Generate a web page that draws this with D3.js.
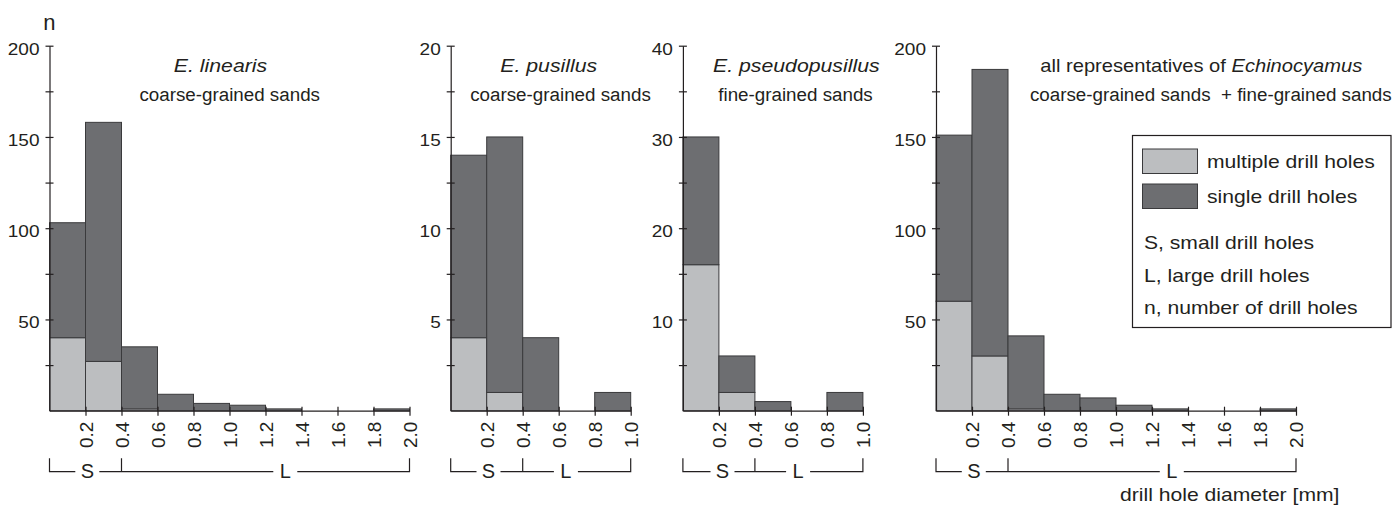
<!DOCTYPE html>
<html>
<head>
<meta charset="utf-8">
<script src="https://cdn.jsdelivr.net/npm/d3@7"></script>
<style>
  body { margin: 0; background: #fff; }
  svg { display: block; font-family: "Liberation Sans", Arial, sans-serif; }
</style>
</head>
<body>
<div id="chart"></div>
<script>
// drill hole diameter classes, 0.2 mm wide
const binWidth = 0.2;

// E. linearis (coarse-grained sands)
const linearisMultiple = [40, 27, 1, 0, 0, 0, 0, 0, 0, 0];
const linearisSingle   = [63, 131, 34, 9, 4, 3, 1, 0, 0, 1];
// E. pusillus (coarse-grained sands)
const pusillusMultiple = [4, 1, 0, 0, 0];
const pusillusSingle   = [10, 14, 4, 0, 1];
// E. pseudopusillus (fine-grained sands)
const pseudoMultiple = [16, 2, 0, 0, 0];
const pseudoSingle   = [14, 4, 1, 0, 2];
// all representatives of Echinocyamus
const allMultiple = [60, 30, 1, 0, 0, 0, 0, 0, 0, 0];
const allSingle   = [91, 157, 40, 9, 7, 3, 1, 0, 0, 1];

// tick labels
const xTicksLong  = [0.2, 0.4, 0.6, 0.8, 1.0, 1.2, 1.4, 1.6, 1.8, 2.0];
const xTicksShort = [0.2, 0.4, 0.6, 0.8, 1.0];
const yMajor200 = [50, 100, 150, 200];
const yMinor200 = [25, 75, 125, 175];
const yMajor20  = [5, 10, 15, 20];
const yMinor20  = [2.5, 7.5, 12.5, 17.5];
const yMajor40  = [10, 20, 30, 40];
const yMinor40  = [5, 15, 25, 35];

// small / large drill hole boundary (mm)
const sizeBreak = 0.4;

const legendItems = ["multiple drill holes", "single drill holes"];
const legendNotes = ["S, small drill holes", "L, large drill holes", "n, number of drill holes"];

const lightFill = "#bcbec0";
const darkFill  = "#6d6e71";
const ink = "#231f20";

const W = 1392, H = 507;
const baseY = 410.7, topY = 45.7;
const pxPerMm = 180;

const svg = d3.select("#chart").append("svg")
    .attr("width", W)
    .attr("height", H);

// panel layout
const panels = [
  { multiple: linearisMultiple, single: linearisSingle, yMax: 200, yMajor: yMajor200, yMinor: yMinor200,
    xMax: 2.0, xTicks: xTicksLong, x0: 49.5,
    title: [["E. linearis", true]], titleX: 220.5, titleSize: 18.5,
    sub: "coarse-grained sands", subX: 229.7, sPos: 0.21, lPos: 1.31 },
  { multiple: pusillusMultiple, single: pusillusSingle, yMax: 20, yMajor: yMajor20, yMinor: yMinor20,
    xMax: 1.0, xTicks: xTicksShort, x0: 450.7,
    title: [["E. pusillus", true]], titleX: 548.7, titleSize: 18.5,
    sub: "coarse-grained sands", subX: 560.5, sPos: 0.21, lPos: 0.64 },
  { multiple: pseudoMultiple, single: pseudoSingle, yMax: 40, yMajor: yMajor40, yMinor: yMinor40,
    xMax: 1.0, xTicks: xTicksShort, x0: 682.9,
    title: [["E. pseudopusillus", true]], titleX: 796.3, titleSize: 18.5,
    sub: "fine-grained sands", subX: 795.5, sPos: 0.22, lPos: 0.64 },
  { multiple: allMultiple, single: allSingle, yMax: 200, yMajor: yMajor200, yMinor: yMinor200,
    xMax: 2.0, xTicks: xTicksLong, x0: 936,
    title: [["all representatives of ", false], ["Echinocyamus", true]], titleX: 1201.3, titleSize: 17.5,
    sub: "coarse-grained sands  + fine-grained sands", subX: 1210.8, sPos: 0.21, lPos: 1.31 }
];

// text that is a little wider than the font draws it
function label(g, x, y, size, sx) {
  return g.append("text")
      .attr("transform", `translate(${x},${y}) scale(${sx},1)`)
      .attr("font-size", size)
      .attr("fill", ink);
}

const stack = d3.stack().keys(["multiple", "single"]);

panels.forEach(p => {
  const g = svg.append("g");

  const x = d3.scaleLinear()
      .domain([0, p.xMax])
      .range([p.x0, p.x0 + p.xMax * pxPerMm]);
  const y = d3.scaleLinear()
      .domain([0, p.yMax])
      .range([baseY, topY]);

  const rows = p.multiple.map((m, i) => ({ bin: i * binWidth, multiple: m, single: p.single[i] }));
  const series = stack(rows);

  // stacked bars: multiple (light) under single (dark)
  g.selectAll("g.series")
    .data(series)
    .join("g")
      .attr("class", "series")
      .attr("fill", d => d.key === "multiple" ? lightFill : darkFill)
    .selectAll("rect")
    .data(d => d.filter(v => v[1] > v[0]))
    .join("rect")
      .attr("x", d => x(d.data.bin))
      .attr("width", d => x(d.data.bin + binWidth) - x(d.data.bin))
      .attr("y", d => y(d[1]))
      .attr("height", d => y(d[0]) - y(d[1]))
      .attr("stroke", "#3a3a3c")
      .attr("stroke-width", 1);

  // y axis
  const yAxis = d3.axisLeft(y)
      .tickValues([...p.yMinor, ...p.yMajor])
      .tickFormat(d => p.yMajor.includes(d) ? d : "")
      .tickSizeOuter(0);
  const ya = g.append("g")
      .attr("transform", `translate(${p.x0},0)`)
      .call(yAxis)
      .attr("font-family", null)
      .attr("font-size", 17);
  ya.selectAll("path, line").attr("stroke", ink).attr("stroke-width", 1.2);
  ya.selectAll(".tick line").attr("x1", -4).attr("x2", 4);
  ya.selectAll(".tick text")
      .attr("fill", ink)
      .attr("x", -10 / 1.12)
      .attr("dy", "0.5em")
      .attr("transform", "scale(1.12,1)");

  // x axis
  const xAxis = d3.axisBottom(x)
      .tickValues(p.xTicks)
      .tickFormat(d3.format(".1f"))
      .tickSizeOuter(0);
  const xa = g.append("g")
      .attr("transform", `translate(0,${baseY})`)
      .call(xAxis)
      .attr("font-family", null)
      .attr("font-size", 19);
  xa.selectAll("path, line").attr("stroke", ink).attr("stroke-width", 1.2);
  xa.selectAll(".tick line").attr("y1", -4).attr("y2", 5);
  xa.selectAll(".tick text")
      .attr("fill", ink)
      .attr("transform", "rotate(-90)")
      .attr("text-anchor", "end")
      .attr("x", -11)
      .attr("y", 0)
      .attr("dy", "0.36em");

  // S / L brackets under the axis
  const bTop = 458.3, bY = 471.7, gap = 12;
  const xs = x(p.sPos), xl = x(p.lPos);
  const path = d3.path();
  path.moveTo(x(0), bTop); path.lineTo(x(0), bY); path.lineTo(xs - gap, bY);
  path.moveTo(xs + gap, bY); path.lineTo(x(sizeBreak), bY);
  path.moveTo(x(sizeBreak), bTop); path.lineTo(x(sizeBreak), bY); path.lineTo(xl - gap, bY);
  path.moveTo(xl + gap, bY); path.lineTo(x(p.xMax), bY); path.lineTo(x(p.xMax), bTop);
  g.append("path")
      .attr("d", path.toString())
      .attr("fill", "none")
      .attr("stroke", ink)
      .attr("stroke-width", 1.2);
  g.append("text").attr("x", xs).attr("y", 478.3).attr("text-anchor", "middle")
      .attr("font-size", 20).attr("fill", ink).text("S");
  g.append("text").attr("x", xl).attr("y", 478.3).attr("text-anchor", "middle")
      .attr("font-size", 20).attr("fill", ink).text("L");

  // titles
  const t = label(g, p.titleX, 72, p.titleSize, 1.15).attr("text-anchor", "middle");
  p.title.forEach(([s, it]) => t.append("tspan").attr("font-style", it ? "italic" : "normal").text(s));
  g.append("text")
      .attr("x", p.subX).attr("y", 101)
      .attr("text-anchor", "middle")
      .attr("font-size", 18.8)
      .attr("fill", ink)
      .style("white-space", "pre")
      .text(p.sub);
});

// n label on first axis
svg.append("text")
    .attr("x", 49.3).attr("y", 30)
    .attr("text-anchor", "middle")
    .attr("font-size", 22)
    .attr("fill", ink)
    .text("n");

// x axis title
label(svg, 1120, 501, 18.7, 1.13).text("drill hole diameter [mm]");

// legend
const lg = svg.append("g");
lg.append("rect")
    .attr("x", 1132.5).attr("y", 135.5)
    .attr("width", 258.5).attr("height", 192)
    .attr("fill", "#fff")
    .attr("stroke", ink)
    .attr("stroke-width", 1.2);
const swatchY = [149, 184];
legendItems.forEach((s, i) => {
  lg.append("rect")
      .attr("x", 1142.5).attr("y", swatchY[i])
      .attr("width", 55).attr("height", 24.5)
      .attr("fill", i === 0 ? lightFill : darkFill)
      .attr("stroke", "#3a3a3c")
      .attr("stroke-width", 1);
  label(lg, 1207, swatchY[i] + 18.5, 18.7, 1.13).text(s);
});
legendNotes.forEach((s, i) => {
  label(lg, 1144, 249 + i * 32.5, 18.7, 1.13).text(s);
});
</script>
</body>
</html>
